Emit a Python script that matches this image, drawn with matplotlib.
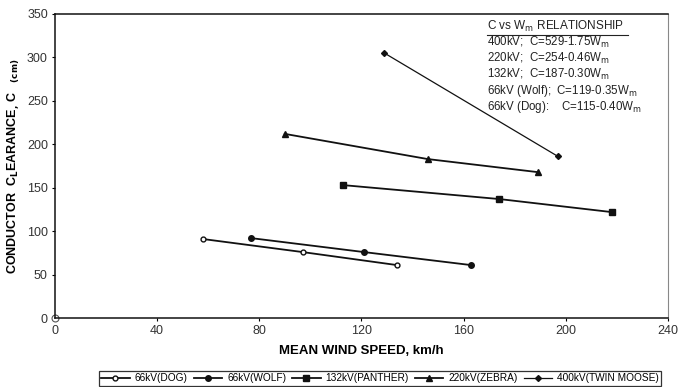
import numpy as np
import matplotlib.pyplot as plt
from matplotlib.lines import Line2D

plt.rcParams['font.family'] = ['Liberation Sans', 'DejaVu Sans']
narrow = ['Liberation Sans Narrow', 'Liberation Sans', 'DejaVu Sans']

# data
dog_x = [58, 97, 134]
dog_y = [91, 76, 61]
wolf_x = [77, 121, 163]
wolf_y = [92, 76, 61]
panther_x = [113, 174, 218]
panther_y = [153, 137, 122]
zebra_x = [90, 146, 189]
zebra_y = [212, 183, 168]
moose_x = [129, 197]
moose_y = [305, 186]

labels = ['66kV(DOG)', '66kV(WOLF)', '132kV(PANTHER)', '220kV(ZEBRA)', '400kV(TWIN MOOSE)']
relations = [r'400kV;  C=529-1.75W$_{\rm m}$',
             r'220kV;  C=254-0.46W$_{\rm m}$',
             r'132kV;  C=187-0.30W$_{\rm m}$',
             r'66kV (Wolf);  C=119-0.35W$_{\rm m}$',
             r'66kV (Dog):    C=115-0.40W$_{\rm m}$']

fig = plt.figure(figsize=(6.85, 3.87), dpi=100)
ax = fig.add_axes([0.080, 0.178, 0.895, 0.786])

lc = '#111111'
l1, = ax.plot(dog_x, dog_y, '-o', color=lc, lw=1.3, ms=3.5, mfc='white', mec=lc, mew=1)
l2, = ax.plot(wolf_x, wolf_y, '-o', color=lc, lw=1.3, ms=4)
l3, = ax.plot(panther_x, panther_y, '-s', color=lc, lw=1.3, ms=4.5)
l4, = ax.plot(zebra_x, zebra_y, '-^', color=lc, lw=1.3, ms=4.5)
l5, = ax.plot(moose_x, moose_y, '-D', color=lc, lw=0.9, ms=3)
# stray open marker at the origin
ax.plot([0], [0], 'o', ms=5, mfc='white', mec='#555555', mew=0.8, ls='none', clip_on=False)

ax.set_xlim(0, 240)
ax.set_ylim(0, 350)
ax.set_xticks(np.arange(0, 241, 40))
ax.set_yticks(np.arange(0, 351, 50))
ax.tick_params(axis='both', labelsize=9, labelcolor='#333333', length=2, width=0.8, direction='out', pad=3)
for t in ax.get_xticklabels() + ax.get_yticklabels():
    t.set_family(narrow)
for s in ['left', 'bottom', 'top']:
    ax.spines[s].set_linewidth(1.1)
    ax.spines[s].set_color('#111111')
ax.spines['right'].set_color('#888888')
ax.spines['right'].set_linewidth(0.8)

ax.set_xlabel('MEAN WIND SPEED, km/h', fontsize=9.5, fontweight='bold', family=narrow, labelpad=6)
ax.set_ylabel(r'CONDUCTOR  C$_{\mathbf{L}}$EARANCE$_{\mathbf{,}}$ C   $_{\mathbf{(cm)}}$',
              fontsize=9, fontweight='bold', labelpad=4)

# relationship box
tx = 169
ax.text(tx, 336, r'C vs W$_{\rm m}$ RELATIONSHIP', fontsize=8.5, va='center', color='#222222')
ax.add_line(Line2D([tx, 224.5], [326, 326], color='#222222', lw=0.8))
for i, r in enumerate(relations):
    ax.text(tx, 317 - i * 18.4, r, fontsize=8.3, va='center', color='#222222')

leg = fig.legend([l1, l2, l3, l4, l5], labels, loc='center', bbox_to_anchor=(0.555, 0.022),
                 ncol=5, frameon=True, fancybox=False, handlelength=2.8,
                 handletextpad=0.5, columnspacing=0.6, borderpad=0.2, borderaxespad=0,
                 prop={'family': narrow, 'size': 7.3})
leg.get_frame().set_edgecolor('black')
leg.get_frame().set_linewidth(0.9)

fig.savefig('out.png', dpi=100)
